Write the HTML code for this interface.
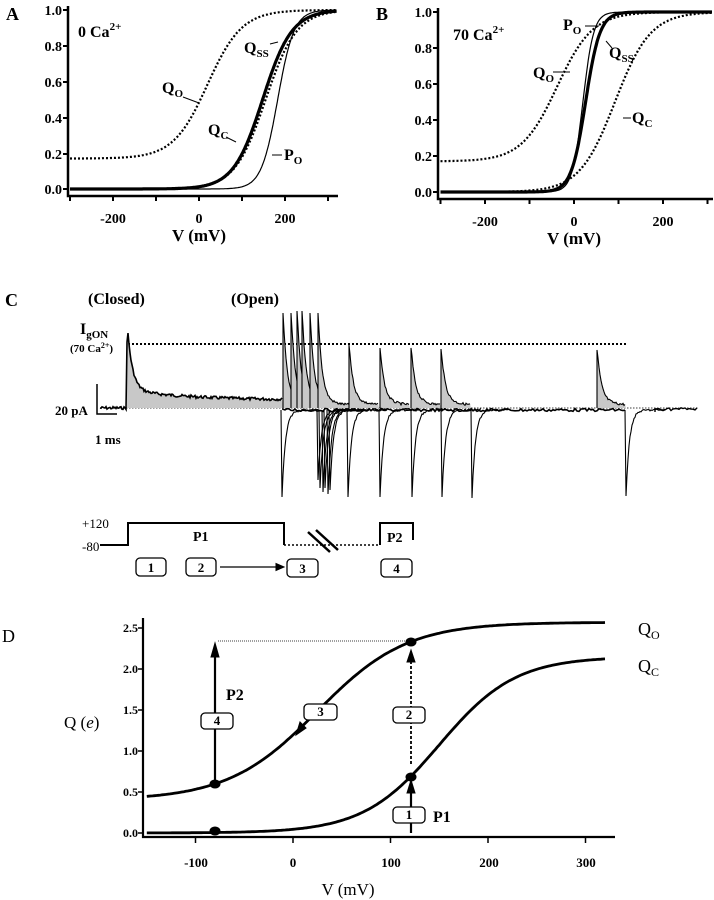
<!DOCTYPE html>
<html><head><meta charset="utf-8"><style>
html,body{margin:0;padding:0;background:#fff;}
svg{display:block;font-family:"Liberation Serif",serif;font-weight:bold;}
</style></head><body>
<svg id="s" width="714" height="900" viewBox="0 0 714 900" xmlns="http://www.w3.org/2000/svg">
<g id="g" fill="none" stroke="#000"></g>
<g font-size="14" fill="#000">
<!-- Panel A -->
<text x="6" y="20" font-size="18">A</text>
<text x="62" y="15" text-anchor="end">1.0</text>
<text x="62" y="51" text-anchor="end">0.8</text>
<text x="62" y="87" text-anchor="end">0.6</text>
<text x="62" y="123" text-anchor="end">0.4</text>
<text x="62" y="159" text-anchor="end">0.2</text>
<text x="62" y="194" text-anchor="end">0.0</text>
<text x="113" y="223" text-anchor="middle">-200</text>
<text x="199" y="223" text-anchor="middle">0</text>
<text x="285" y="223" text-anchor="middle">200</text>
<text x="199" y="241" text-anchor="middle" font-size="17">V (mV)</text>
<text x="78" y="37" font-size="16">0 Ca<tspan font-size="11" dy="-7">2+</tspan></text>
<text x="162" y="93" font-size="16">Q<tspan font-size="11" dy="4">O</tspan></text>
<text x="208" y="135" font-size="16">Q<tspan font-size="11" dy="4">C</tspan></text>
<text x="244" y="53" font-size="16">Q<tspan font-size="11" dy="4">SS</tspan></text>
<text x="284" y="160" font-size="16">P<tspan font-size="11" dy="4">O</tspan></text>
<!-- Panel B -->
<text x="376" y="20" font-size="18">B</text>
<text x="432" y="17" text-anchor="end">1.0</text>
<text x="432" y="53" text-anchor="end">0.8</text>
<text x="432" y="89" text-anchor="end">0.6</text>
<text x="432" y="125" text-anchor="end">0.4</text>
<text x="432" y="161" text-anchor="end">0.2</text>
<text x="432" y="197" text-anchor="end">0.0</text>
<text x="485" y="226" text-anchor="middle">-200</text>
<text x="574" y="226" text-anchor="middle">0</text>
<text x="663" y="226" text-anchor="middle">200</text>
<text x="574" y="244" text-anchor="middle" font-size="17">V (mV)</text>
<text x="453" y="40" font-size="16">70 Ca<tspan font-size="11" dy="-7">2+</tspan></text>
<text x="563" y="30" font-size="16">P<tspan font-size="11" dy="4">O</tspan></text>
<text x="533" y="78" font-size="16">Q<tspan font-size="11" dy="4">O</tspan></text>
<text x="609" y="58" font-size="16">Q<tspan font-size="11" dy="4">SS</tspan></text>
<text x="632" y="123" font-size="16">Q<tspan font-size="11" dy="4">C</tspan></text>
<!-- Panel C -->
<text x="5" y="306" font-size="18">C</text>
<text x="88" y="304" font-size="16">(Closed)</text>
<text x="231" y="304" font-size="16">(Open)</text>
<text x="80" y="334" font-size="16">I<tspan font-size="11" dy="4">gON</tspan></text>
<text x="70" y="352" font-size="11">(70 Ca<tspan font-size="8" dy="-4">2+</tspan><tspan dy="4">)</tspan></text>
<text x="55" y="415" font-size="13">20 pA</text>
<text x="95" y="444" font-size="13">1 ms</text>
<text x="82" y="528" font-size="13" font-weight="normal">+120</text>
<text x="82" y="551" font-size="13" font-weight="normal">-80</text>
<text x="193" y="541" font-size="14">P1</text>
<text x="387" y="542" font-size="14">P2</text>
<!-- Panel D -->
<text x="2" y="642" font-size="18" font-weight="normal">D</text>
<text x="138" y="632" text-anchor="end" font-size="12">2.5</text>
<text x="138" y="673" text-anchor="end" font-size="12">2.0</text>
<text x="138" y="714" text-anchor="end" font-size="12">1.5</text>
<text x="138" y="755" text-anchor="end" font-size="12">1.0</text>
<text x="138" y="796" text-anchor="end" font-size="12">0.5</text>
<text x="138" y="837" text-anchor="end" font-size="12">0.0</text>
<text x="196" y="867" text-anchor="middle" font-size="13">-100</text>
<text x="293" y="867" text-anchor="middle" font-size="13">0</text>
<text x="391" y="867" text-anchor="middle" font-size="13">100</text>
<text x="489" y="867" text-anchor="middle" font-size="13">200</text>
<text x="586" y="867" text-anchor="middle" font-size="13">300</text>
<text x="348" y="895" text-anchor="middle" font-size="17" font-weight="normal">V (mV)</text>
<text x="64" y="728" font-size="17" font-weight="normal">Q (<tspan font-style="italic">e</tspan>)</text>
<text x="638" y="635" font-size="18" font-weight="normal">Q<tspan font-size="12" dy="4">O</tspan></text>
<text x="638" y="672" font-size="18" font-weight="normal">Q<tspan font-size="12" dy="4">C</tspan></text>
<text x="226" y="700" font-size="16">P2</text>
<text x="433" y="822" font-size="16">P1</text>
</g>
<g id="boxes" font-size="13" fill="#000"></g>
</svg>
<script>
var g=document.getElementById('g'),B=document.getElementById('boxes');
function el(t,a,p){var e=document.createElementNS('http://www.w3.org/2000/svg',t);for(var k in a)e.setAttribute(k,a[k]);(p||g).appendChild(e);return e;}
function line(d,w,dash){var a={d:d,'stroke-width':w||1};if(dash)a['stroke-dasharray']=dash;return el('path',a);}
function curve(fx,fy,f,v0,v1,w,dash){var d='';for(var v=v0;v<=v1;v+=2){d+=(d?'L':'M')+fx(v).toFixed(1)+','+fy(f(v)).toFixed(1);}return line(d,w,dash);}
function bz(b,a,v0,k){return function(v){return b+a/(1+Math.exp(-(v-v0)/k));};}
// Panel A
var xA=function(v){return 199+0.43*v},yA=function(f){return 189-179*f};
line('M68,6V196H338',2.5);
[10,46,82,118,154,189].forEach(function(y){line('M63,'+y+'H68',2);});
[-300,-200,-100,0,100,200,300].forEach(function(v){line('M'+xA(v)+',196V201',2);});
curve(xA,yA,bz(0.17,0.83,20,40),-300,320,2.2,'2,2');
curve(xA,yA,bz(0,1,148,34),-300,320,3.2);
curve(xA,yA,bz(0,1,155,36),-300,320,2.2,'2,2');
curve(xA,yA,bz(0,1,183,19),-300,320,1.2);
line('M183,97L199,103',1);line('M226,137L236,142',1);line('M272,155H282',1);line('M270,44L278,42',1);
// Panel B
var xB=function(v){return 574+0.445*v},yB=function(f){return 192-180*f};
line('M438,8V199H713',2.5);
[12,48,84,120,156,192].forEach(function(y){line('M433,'+y+'H438',2);});
[-300,-200,-100,0,100,200,300].forEach(function(v){line('M'+xB(v)+',199V204',2);});
curve(xB,yB,bz(0.17,0.83,-38,40),-300,310,2.2,'2,2');
curve(xB,yB,bz(0,1,92,40),-300,310,2.2,'2,2');
curve(xB,yB,bz(0,1,26,16),-300,310,3.2);
curve(xB,yB,bz(0,1,20,12),-300,310,1.2);
line('M585,26H599',1);line('M553,72H570',1);line('M612,48L606,41',1);line('M623,118H631',1);
// Panel C trace
var seed=7;function rnd(){seed=(seed*9301+49297)%233280;return seed/233280-0.5;}
line('M97,384V414H117',1.5);
line('M128,344H626',2,'2,2');
line('M120,408H698',0.8,'1.5,1.5');
var d='M100,408';for(var x=100;x<127;x++)d+='L'+x+','+(408+rnd()*3).toFixed(1);
d+='L127,342';var fill='M127,408L127,342';
for(x=128;x<283;x++){var y=400-56*Math.exp(-(x-128)/5)-10*Math.exp(-(x-128)/60)+rnd()*3;d+='L'+x+','+y.toFixed(1);fill+='L'+x+','+y.toFixed(1);}
fill+='L283,408Z';
el('path',{d:fill,fill:'#c8c8c8',stroke:'none'});
line(d,1.6);
var sp=[[283,313],[291,313],[297,311],[302,311],[310,313],[318,313],[349,345],[380,348],[411,348],[441,349],[597,350]];
sp.forEach(function(s){var x0=s[0],top=s[1],p='M'+x0+',408L'+x0+','+top,f='M'+x0+',408L'+x0+','+top;
 var end=(x0>590)?626:Math.min(x0+30,472);if(x0<330)end=x0+40;
 for(var x=x0+1;x<end;x++){var y=406-(408-top-4)*Math.exp(-(x-x0)/4)-6*Math.exp(-(x-x0)/20)+rnd()*2.5;p+='L'+x+','+y.toFixed(1);f+='L'+x+','+y.toFixed(1);}
 f+='L'+end+',408Z';el('path',{d:f,fill:'#c8c8c8',stroke:'none'});line(p,1.1);});
d='M283,410';for(x=283;x<626;x+=2)d+='L'+x+','+(410+rnd()*3).toFixed(1);line(d,1.6);
var dn=[[282,497],[318,480],[320,488],[323,492],[325,488],[328,494],[330,490],[348,497],[380,497],[412,497],[442,497],[472,498],[626,496]];
dn.forEach(function(s){var x0=s[0],b=s[1],p='M'+(x0-1)+',410L'+x0+','+b;for(var x=x0+1;x<x0+40;x++){var y=410+(b-410)*Math.exp(-(x-x0)/3.5)+rnd()*2;p+='L'+x+','+y.toFixed(1);}line(p,1.1);});
d='M655,412';for(x=655;x<698;x+=2)d+='L'+x+','+(409+rnd()*3).toFixed(1);line(d,1.4);
// protocol
line('M100,545H128V523H284V545',2);
line('M284,545H380',1.5,'2,2');
line('M380,545V523H413V540',2);
line('M308,532L330,552M316,530L338,550',2.5);
function box(x,y,w,h,t){el('rect',{x:x,y:y,width:w,height:h,rx:4,fill:'#fff',stroke:'#000','stroke-width':1.3});var e=el('text',{x:x+w/2,y:y+h-4,'text-anchor':'middle'},B);e.textContent=t;}
box(136,558,30,18,'1');box(186,558,30,18,'2');box(287,559,31,18,'3');box(381,559,31,18,'4');
line('M220,567H278',1.2);el('path',{d:'M284,567L276,563.5L276,570.5Z',fill:'#000'});
// Panel D
var xD=function(v){return 293+0.975*v},yD=function(q){return 833-82*q};
line('M143,618V837H615',2.2);
[628,669,710,751,792,833].forEach(function(y){line('M138,'+y+'H143',1.5);});
[-100,0,100,200,300].forEach(function(v){line('M'+xD(v)+',837V843',1.5);});
curve(xD,yD,bz(0.4,2.17,25,45.8),-150,320,2.8);
curve(xD,yD,bz(0,2.15,150,39),-150,320,2.8);
line('M218,641H411',0.8,'1,1');
line('M215,784V655',2.2);el('path',{d:'M215,643L211,657L219,657Z',fill:'#000'});
line('M411,764V660',1.8,'3,2');el('path',{d:'M411,650L407,662L415,662Z',fill:'#000'});
line('M411,833V792',2.2);el('path',{d:'M411,780L407,793L415,793Z',fill:'#000'});
el('path',{d:'M296,735L300,722L306,728Z',fill:'#000'});
[[215,831],[215,784],[411,642],[411,777]].forEach(function(p){el('ellipse',{cx:p[0],cy:p[1],rx:5,ry:4,fill:'#000'});});
box(201,713,32,16,'4');box(304,704,33,16,'3');box(393,707,32,16,'2');box(393,807,32,16,'1');
</script>
</body></html>
